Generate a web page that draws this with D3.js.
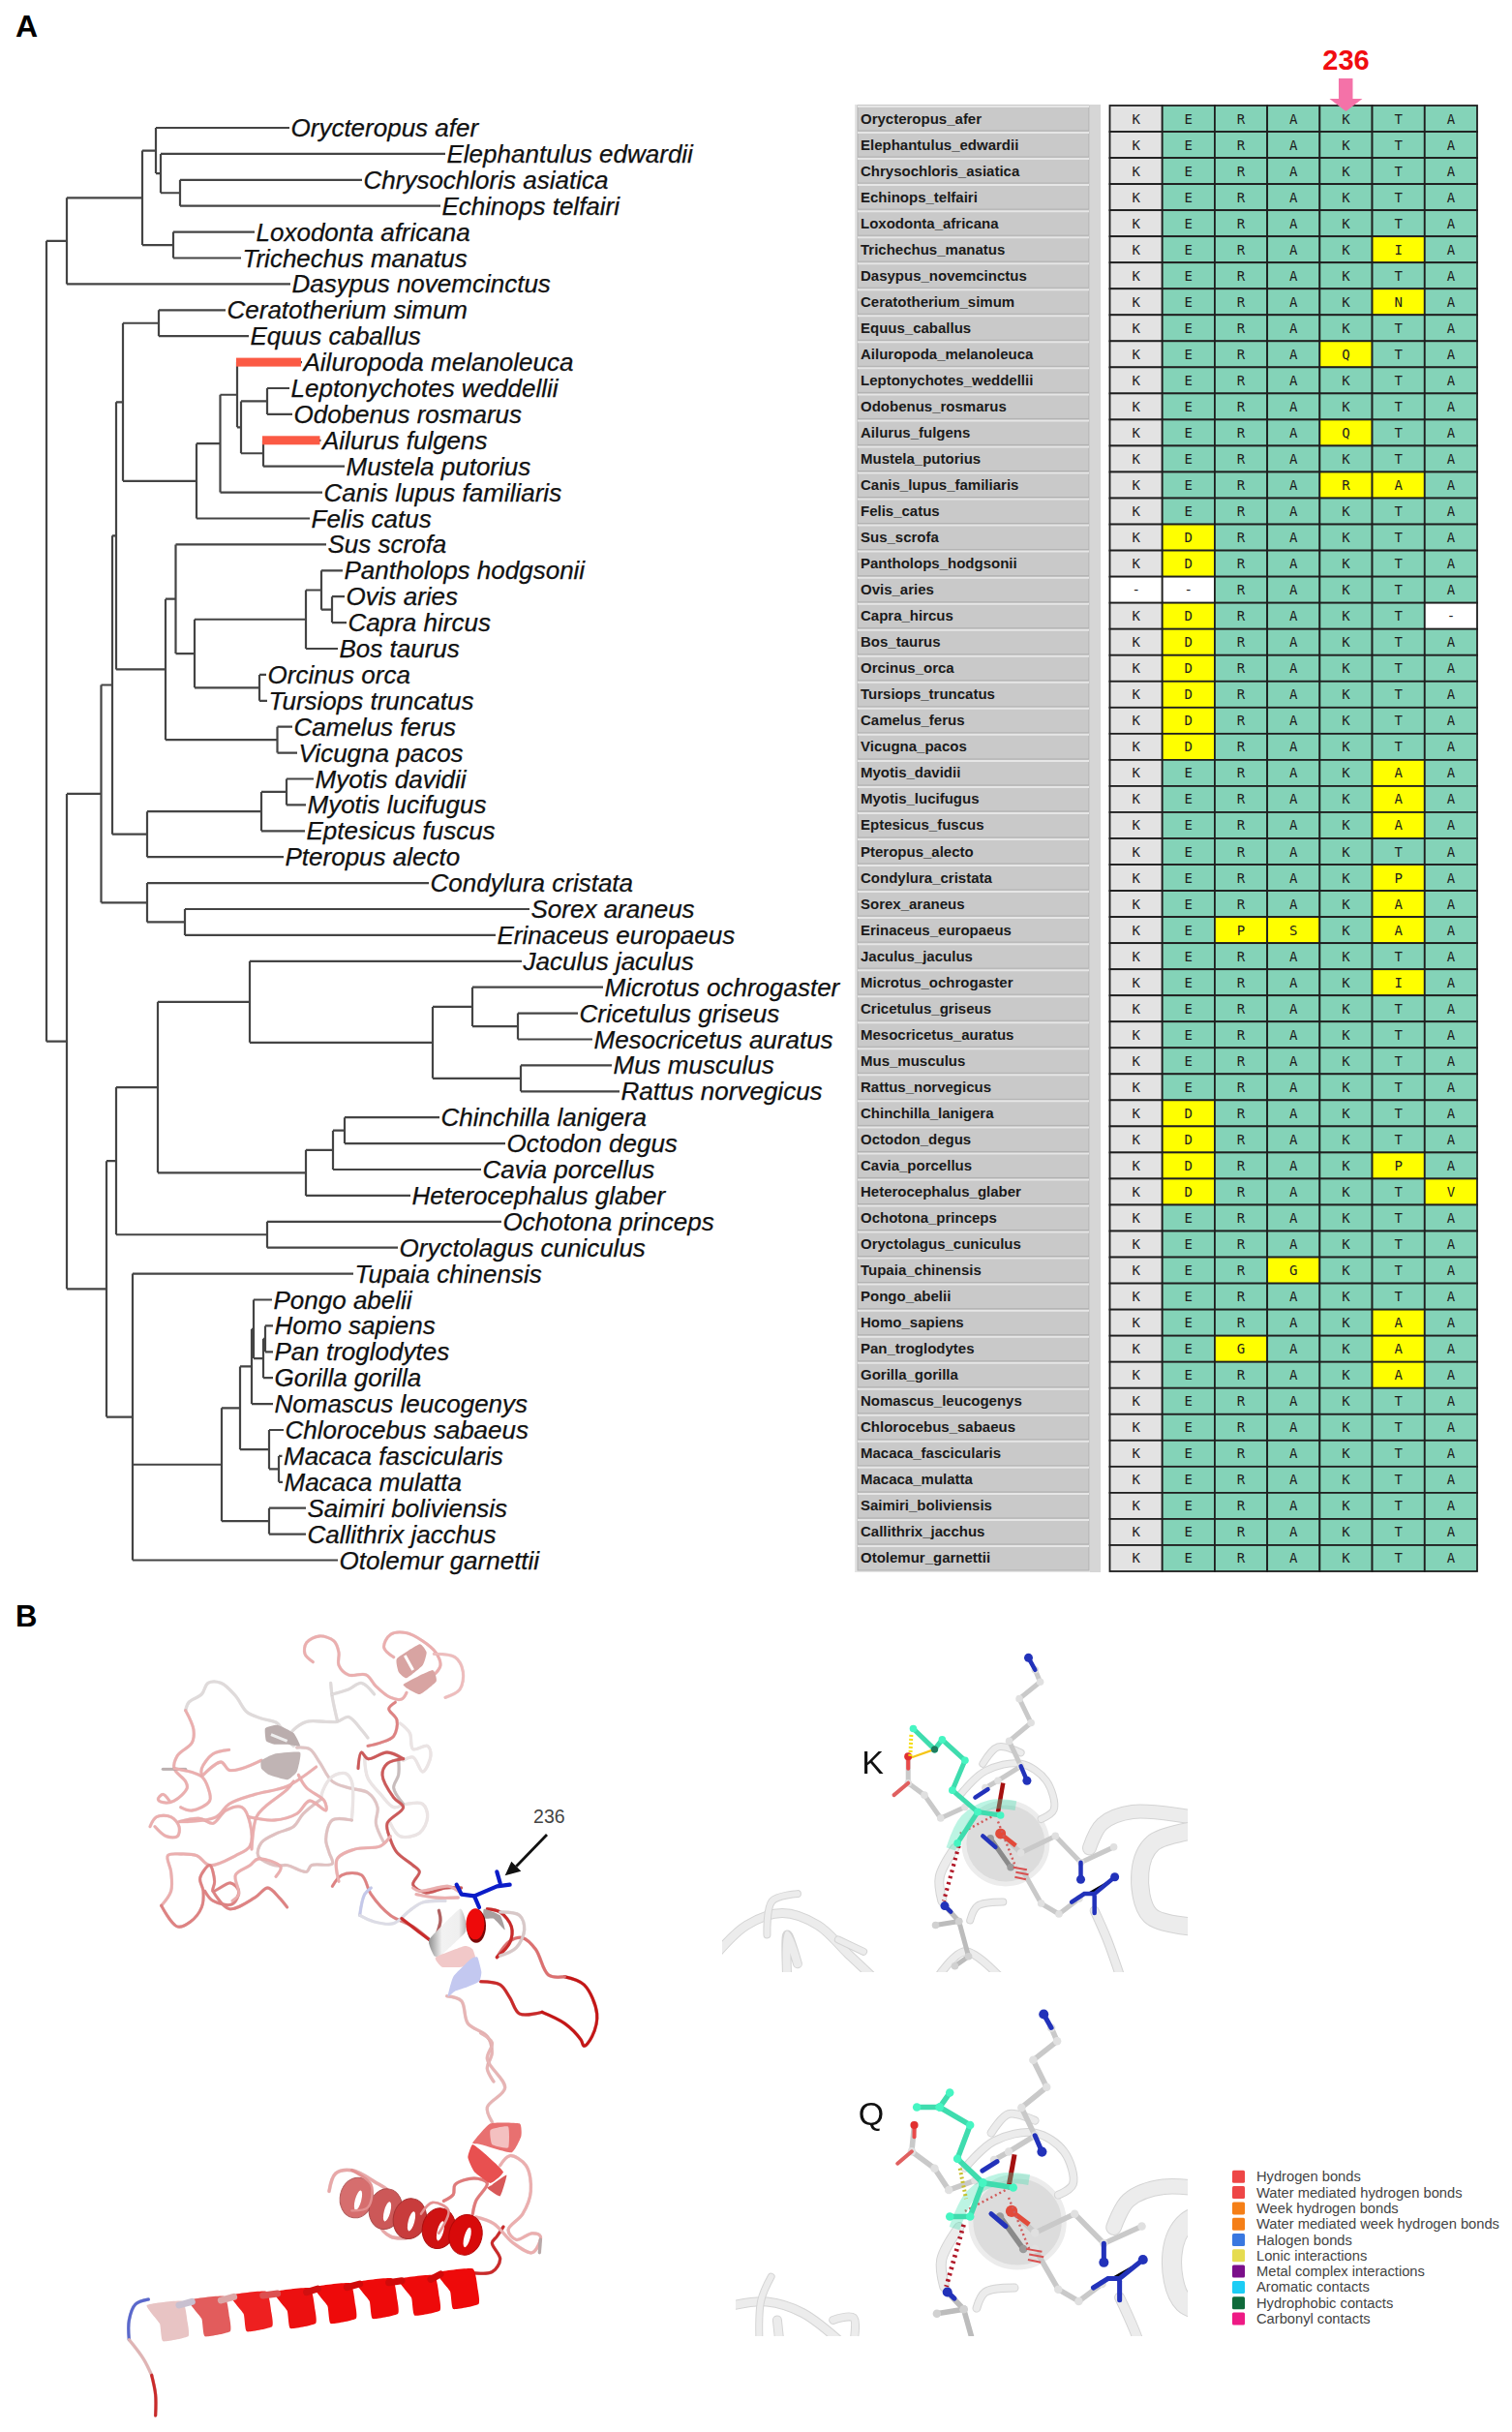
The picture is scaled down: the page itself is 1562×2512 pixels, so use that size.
<!DOCTYPE html>
<html><head><meta charset="utf-8">
<script src="https://cdn.jsdelivr.net/npm/d3@7"></script>
<style>html,body{margin:0;padding:0;background:#fff}svg{display:block}text{font-family:"Liberation Sans",Arial,sans-serif}</style>
</head><body><svg id="c" width="1562" height="2512" viewBox="0 0 1562 2512"></svg>
<script>
// ---------- DATA ----------
const species=["Orycteropus_afer","Elephantulus_edwardii","Chrysochloris_asiatica","Echinops_telfairi","Loxodonta_africana","Trichechus_manatus","Dasypus_novemcinctus","Ceratotherium_simum","Equus_caballus","Ailuropoda_melanoleuca","Leptonychotes_weddellii","Odobenus_rosmarus","Ailurus_fulgens","Mustela_putorius","Canis_lupus_familiaris","Felis_catus","Sus_scrofa","Pantholops_hodgsonii","Ovis_aries","Capra_hircus","Bos_taurus","Orcinus_orca","Tursiops_truncatus","Camelus_ferus","Vicugna_pacos","Myotis_davidii","Myotis_lucifugus","Eptesicus_fuscus","Pteropus_alecto","Condylura_cristata","Sorex_araneus","Erinaceus_europaeus","Jaculus_jaculus","Microtus_ochrogaster","Cricetulus_griseus","Mesocricetus_auratus","Mus_musculus","Rattus_norvegicus","Chinchilla_lanigera","Octodon_degus","Cavia_porcellus","Heterocephalus_glaber","Ochotona_princeps","Oryctolagus_cuniculus","Tupaia_chinensis","Pongo_abelii","Homo_sapiens","Pan_troglodytes","Gorilla_gorilla","Nomascus_leucogenys","Chlorocebus_sabaeus","Macaca_fascicularis","Macaca_mulatta","Saimiri_boliviensis","Callithrix_jacchus","Otolemur_garnettii"];
const consensus="KERAKTA";
const residues=["KERAKTA","KERAKTA","KERAKTA","KERAKTA","KERAKTA","KERAKIA","KERAKTA","KERAKNA","KERAKTA","KERAQTA","KERAKTA","KERAKTA","KERAQTA","KERAKTA","KERARAA","KERAKTA","KDRAKTA","KDRAKTA","--RAKTA","KDRAKT-","KDRAKTA","KDRAKTA","KDRAKTA","KDRAKTA","KDRAKTA","KERAKAA","KERAKAA","KERAKAA","KERAKTA","KERAKPA","KERAKAA","KEPSKAA","KERAKTA","KERAKIA","KERAKTA","KERAKTA","KERAKTA","KERAKTA","KDRAKTA","KDRAKTA","KDRAKPA","KDRAKTV","KERAKTA","KERAKTA","KERGKTA","KERAKTA","KERAKAA","KEGAKAA","KERAKAA","KERAKTA","KERAKTA","KERAKTA","KERAKTA","KERAKTA","KERAKTA","KERAKTA"];
// Tree: every node carries its cumulative depth from the root.
const treeNewick="((((Orycteropus_afer:251,(Elephantulus_edwardii:412,(Chrysochloris_asiatica:326,Echinops_telfairi:407):138):118):113,(Loxodonta_africana:215,Trichechus_manatus:201):131):99,Dasypus_novemcinctus:252):21,((((((Ceratotherium_simum:185,Equus_caballus:209):116,(((Ailuropoda_melanoleuca:264,((Leptonychotes_weddellii:251,Odobenus_rosmarus:254):228,(Ailurus_fulgens:283.5,Mustela_putorius:308):224):201):197,Canis_lupus_familiaris:285):179.5,Felis_catus:272):155):79,((Sus_scrofa:289,(((Pantholops_hodgsonii:306,(Ovis_aries:308,Capra_hircus:310):295):284,Bos_taurus:301):268,(Orcinus_orca:227,Tursiops_truncatus:228):220):153):133.5,(Camelus_ferus:254,Vicugna_pacos:259):238.5):123):72,(((Myotis_davidii:276,Myotis_lucifugus:268):248,Eptesicus_fuscus:267):222,Pteropus_alecto:245):104):68,(Condylura_cristata:395,(Sorex_araneus:499,Erinaceus_europaeus:464):143):104):56.5,(((((Jaculus_jaculus:491,((Microtus_ochrogaster:575,(Cricetulus_griseus:549,Mesocricetus_auratus:564):487):440,(Mus_musculus:584,Rattus_norvegicus:592):490):399):210,(((Chinchilla_lanigera:406,Octodon_degus:474):308,Cavia_porcellus:449):296,Heterocephalus_glaber:376):268):115,(Ochotona_princeps:470,Oryctolagus_cuniculus:363):228):72,(Tupaia_chinensis:317,((((Pongo_abelii:233,((Homo_sapiens:234,Pan_troglodytes:234):226,Gorilla_gorilla:234):224):214,Nomascus_leucogenys:234):212,(Chlorocebus_sabaeus:245,(Macaca_fascicularis:243.5,Macaca_mulatta:244):240):230):200,(Saimiri_boliviensis:268,Callithrix_jacchus:268):230):181,Otolemur_garnettii:301):89):62):57.5):21):0";
const highlighted=["Ailuropoda_melanoleuca","Ailurus_fulgens"];
const legendLabels=["Hydrogen bonds","Water mediated hydrogen bonds","Week hydrogen bonds","Water mediated week hydrogen bonds","Halogen bonds","Lonic interactions","Metal complex interactions","Aromatic contacts","Hydrophobic contacts","Carbonyl contacts"];
const legendColors=["#ee4646","#ee4646","#f57f17","#f57f17","#3a78e0","#e6dc50","#7b0f8a","#1ccdf5","#0f6a3a","#ee1a85"];
const PK="#ebaeae",RS="#de8282",RD="#c92a2a",GY="#dfdada",WG="#ebe4e4",DP="#cc5a5a";
// Structure traces, in picture-read trace units.
const loopsUpper=[
 [PK,[[550,140],[525,115],[530,80],[570,60],[615,75],[630,110],[630,150],[660,180],[715,180],[745,215],[790,250],[825,255],[840,235]]],
 [PK,[[800,125],[770,95],[790,55],[840,50],[890,75],[930,110],[945,150],[930,175]]],
 ["#eebcbc",[[925,115],[990,125],[1015,170],[1005,225],[960,250]]],
 [RS,[[805,265],[785,285],[810,320],[800,370],[760,390],[720,400]]],
 [GY,[[155,290],[165,265],[205,240],[225,205],[265,205],[310,245],[345,295],[390,315],[440,330],[470,380],[490,400]]],
 [PK,[[155,290],[180,350],[175,390],[130,430],[120,470],[155,510],[160,530],[120,570],[85,575],[70,565],[85,550],[105,570]]],
 ["#bbb0b0",[[85,472],[155,472]]],
 [PK,[[120,470],[205,495],[225,530],[230,570],[175,600],[140,590]]],
 [PK,[[290,412],[240,425],[205,470],[205,490]]],
 [PK,[[210,490],[265,450],[290,475],[330,470],[390,445]]],
 [GY,[[470,380],[490,350],[530,325],[590,325],[625,325],[660,310],[700,350],[720,375]]],
 [GY,[[605,205],[610,250],[625,320]]],[GY,[[610,240],[660,225],[700,205],[740,240]]],
 ["#e0c4c4",[[500,405],[540,410],[570,450],[610,510],[660,530],[720,545],[750,590],[745,640],[770,700]]],
 [WG,[[670,630],[670,510],[650,485],[610,495],[580,540],[575,565]]],
 ["#e0c0c0",[[575,565],[520,610],[490,650],[440,670],[390,700],[380,740],[430,770],[470,770],[530,790],[545,770],[610,765],[600,730],[590,690],[610,630],[670,630]]],
 [PK,[[45,650],[65,620],[110,620],[135,650],[130,680],[95,680],[60,650]]],
 [PK,[[135,635],[200,625],[240,640],[280,600],[330,590],[355,640],[355,710],[310,740],[230,770],[190,740],[140,735],[100,740],[110,790],[110,850],[80,895]]],
 [RS,[[80,895],[130,960],[170,945],[205,900],[210,850],[200,810],[230,770],[245,820],[240,850],[295,825],[320,850],[300,890],[240,880],[215,850]]],
 [RS,[[240,850],[290,905],[370,870],[410,840],[445,870],[470,900]]],
 [PK,[[435,805],[450,775],[380,750],[355,770],[310,800],[320,860],[300,880]]],
 [PK,[[360,720],[375,620],[400,590],[470,535],[490,510]]],
 [PK,[[140,635],[250,620],[290,580],[370,550],[470,525],[560,465]]],
 [PK,[[350,620],[430,630],[500,610],[540,570],[590,600],[585,570],[530,530],[505,490]]],
 [WG,[[820,330],[850,360],[860,410],[905,400],[915,430],[890,480],[860,435],[830,445]]],
 [WG,[[710,440],[720,500],[760,550],[800,590],[840,580],[890,580],[905,620],[880,670],[820,680],[790,640]]],
 ["#c8bcbc",[[815,440],[815,490],[800,530],[830,580]]],
 [DP,[[830,440],[780,420],[720,440],[700,420],[690,470]]],
 [DP,[[830,440],[780,455],[765,490],[800,560],[830,590],[780,640],[790,690],[810,730],[860,770],[880,790],[860,830],[900,855],[960,840],[1010,840]]],
 [RS,[[610,835],[640,800],[700,800],[730,860],[790,925],[860,960],[910,1000]]],
 [PK,[[630,820],[625,750],[680,720],[760,710],[790,680]]],
 ["#c4c8ea",[[695,925],[710,860],[730,840]]],
 ["#dcdce6",[[695,925],[740,945],[800,950],[850,910],[890,885],[960,880]]],
 [PK,[[860,840],[880,850],[970,835],[1000,850]]],[PK,[[1000,870],[930,870],[870,860]]]
];
const helixUpperPolys=[
 ["#d8a4a2",[[810,130],[880,85],[902,110],[890,150],[840,190],[815,170]]],
 ["#d8a4a2",[[830,210],[920,165],[932,200],[880,240]]],
 ["#baadad",[[402,345],[440,335],[490,360],[510,400],[470,395],[430,395],[405,385]]],
 ["#c0b4b4",[[390,445],[430,425],[510,420],[500,480],[470,505],[415,490],[390,470]]]
];
const loopsLower=[
 [RD,[[470,590],[530,600],[560,640],[590,690],[660,685]]],
 ["#c41616",[[660,685],[730,720],[780,770],[790,790],[815,760],[830,690],[790,600],[730,575]]],
 ["#dc7070",[[730,575],[680,570],[640,490],[600,455],[560,465],[520,515]]],
 [RD,[[520,515],[560,470],[565,420],[530,375],[490,365]]],
 ["#d8c8c8",[[530,375],[590,385],[605,430],[580,485],[530,510]]],
 ["#e7b4b4",[[365,635],[410,650],[430,720],[490,760],[505,810],[490,860],[510,900]]],
 [RD,[[225,395],[270,430],[310,460]]],
 ["#b06060",[[340,370],[345,400],[335,440]]]
];
const helixLowerPolys=[
 ["url(#gw)",[[310,460],[405,365],[425,410],[420,440],[345,510],[325,510]]],
 ["#f1c8c8",[[330,515],[420,480],[445,490],[455,530],[410,545],[350,545]]],
 ["#a8a0a0",[[480,365],[530,385],[545,430],[510,395],[480,395]]],
 ["#c3c8f0",[[385,575],[440,520],[460,515],[472,560],[465,590],[420,610],[390,620],[368,636]]]
];
const lysine=[[[395,290],[410,320],[450,325],[520,295],[560,290]],[[520,250],[530,285]],[[450,325],[465,360]]];
const coilBottom=[
 ["#e7b4b4",[[1130,0],[1165,30],[1150,80],[1205,170],[1150,230],[1165,275]]],
 [RD,[[1085,740],[1165,740],[1190,700],[1165,650],[1180,630],[1200,600]]],
 [PK,[[1115,570],[1170,590],[1230,650],[1290,680],[1315,630],[1290,620],[1240,640],[1215,610],[1260,560],[1285,490],[1270,410],[1220,380],[1190,410]]],
 ["#b8a8a8",[[1312,680],[1315,640]]],
 ["#e07a7a",[[1015,520],[1045,500],[1050,470],[1110,450],[1150,465],[1115,520],[1105,560]]],
 ["#5a68cc",[[100,825],[60,840],[40,890],[40,950]]],
 ["#e0b4b4",[[40,950],[85,1010],[110,1060]]],
 [RD,[[110,1060],[122,1120],[122,1185]]]
];
const tiltedLoop=[[660,490],[680,435],[730,425],[800,460],[850,500],[815,590],[850,630],[900,635]];
const h2cx=[745,835,910,1000,1083],h2cy=[510,545,575,605,625],h2col=["#d66e6e","#cc5858","#c83c3c","#cf1212","#d80a0a"];
const h1x=[1045,925,795,665,540,405,275,145],h1y=[855,875,885,900,915,925,940,955];
const h1col=["#ee0a0a","#ee0a0a","#ee0a0a","#ee0a0a","#ec1010","#ee2020","#e25c5c","#e8c4c4"];
const h1back=["#d00a0a","#d00a0a","#d00a0a","#d01010","#dc5050","#dca6a6","#c8c0d0"];
const shortHelix=[["#e87070",[[1105,340],[1160,280],[1250,280],[1255,320],[1225,370],[1130,345]]],["#f4c0c0",[[1160,300],[1215,290],[1215,355],[1165,345]]],["#e85050",[[1090,385],[1105,345],[1150,380],[1200,430],[1160,465],[1110,430]]],["#d85858",[[1165,470],[1210,440],[1190,505],[1150,480]]]];
// Residue scenes, trace units of the K panel; Q reuses them through its own scale.
const ribbonsShared=[
 [[[480,350],[530,300],[600,285],[650,320],[665,380],[640,400]],7],
 [[[525,285],[555,250],[600,262]],7],
 [[[470,460],[440,520],[445,570]],9],
 [[[435,730],[490,675],[570,740]],8],
 [[[500,610],[515,580],[565,572]],7],
 [[[745,590],[770,650],[800,740]],9],
 [[[735,460],[760,410],[820,385],[960,400]],14],
 [[[960,420],[860,450],[835,510],[855,600],[960,625]],18]
];
const ribbonsK=[
 [[[0,680],[60,620],[130,595],[200,620],[260,680],[320,740]],9],
 [[[100,640],[110,570],[160,555]],7],[[[140,740],[140,640],[160,700]],9],[[[240,650],[290,675]],7]
];
const ribbonsQ=[
 [[[30,1410],[100,1402],[170,1425],[250,1490]],9],[[[108,1350],[88,1400],[85,1490]],7],[[[120,1440],[125,1490]],9],[[[230,1440],[270,1435],[270,1490]],8]
];
const sticks=[
 ["#c9c9c9",[[628,90],[638,115],[597,150],[620,200],[577,238],[600,290],[555,320],[530,335]]],
 ["#c9c9c9",[[560,430],[600,470],[668,435],[718,490],[783,458]]],
 ["#c9c9c9",[[600,500],[640,575],[675,597],[715,565]]],
 ["#bcbcbc",[[478,612],[432,620]]],["#bcbcbc",[[450,580],[478,612],[497,685],[470,705]]],
 ["#8a8a8a",[[540,440],[580,500]]]
];
const bluePieces=[
 [[[615,65],[628,90]],[615,65]],[[[600,290],[612,320]],[612,320]],[[[510,355],[535,338]],null],[[[718,490],[718,525]],[718,525]],
 [[[700,572],[725,555],[745,555],[785,520]],[785,520]],[[[745,560],[745,595]],null],[[[525,435],[550,458]],null],[[[450,580],[462,592]],[450,580]]
];
const stickLeftK=[[378,270],[378,325],[410,350],[442,398],[490,375]];
const stickLeftQ=[[390,1035],[385,1090],[430,1125],[458,1170],[510,1150]];
const tealK=[[[388,212],[430,255],[445,235],[490,278],[465,340],[515,385],[475,450]],[[515,385],[560,392]]];
const tealQ=[[[395,998],[440,998],[460,968]],[[440,998],[500,1035],[475,1105],[525,1155],[500,1225],[460,1225]],[[525,1155],[585,1165]]];

// ---------- HELPERS ----------
const svg=d3.select("#c");
const defs=svg.append("defs");
const gw=defs.append("linearGradient").attr("id","gw");
[[0,"#8f8f8f"],[.35,"#f2f2f2"],[.8,"#efefef"],[1,"#b5b5b5"]].forEach(s=>gw.append("stop").attr("offset",s[0]).attr("stop-color",s[1]));
const crop=(ox,oy,kx,ky)=>({x:d3.scaleLinear([0,1],[ox,ox+1/kx]),y:d3.scaleLinear([0,1],[oy,oy+1/ky])});
const lineOf=(c,curve)=>d3.line().x(d=>c.x(d[0])).y(d=>c.y(d[1])).curve(curve||d3.curveCatmullRom.alpha(.5));
const smoothClosed=d3.curveCardinalClosed.tension(.55);
function parseNewick(s){let i=0;function node(){const n={children:[]};if(s[i]==="("){i++;do{n.children.push(node())}while(s[i++]===",")}
 let j=i;while(j<s.length&&!",():".includes(s[j]))j++;n.name=s.slice(i,j);i=j;if(s[i]===":"){i++;j=i;while(j<s.length&&!",()".includes(s[j]))j++;n.depth0=+s.slice(i,j);i=j}
 if(!n.children.length)delete n.children;return n}return node()}

// ---------- PANEL LETTERS ----------
svg.append("text").attr("x",16).attr("y",37.5).attr("font-size",32).attr("font-weight",700).text("A");
svg.append("text").attr("x",16).attr("y",1680).attr("font-size",31).attr("font-weight",700).text("B");

// ---------- TREE ----------
const xTree=d3.scaleLinear([0,593],[48,641]);
const yTip=d3.scalePoint(species,[132,1611.5]);
const root=d3.hierarchy(parseNewick(treeNewick));
root.eachAfter(n=>{n.px=xTree(n.data.depth0||0);n.py=n.children?(n.children[0].py+n.children[n.children.length-1].py)/2:yTip(n.data.name)});
const gTree=svg.append("g").style("filter","blur(.35px)");
gTree.append("path").attr("fill","none").attr("stroke","#444").attr("stroke-width",2.2).attr("d",()=>{const p=d3.path();root.each(n=>{
 if(n.children){p.moveTo(n.px,n.children[0].py);p.lineTo(n.px,n.children[n.children.length-1].py);n.children.forEach(c=>{p.moveTo(n.px,c.py);p.lineTo(c.px,c.py)})}});return p});
gTree.selectAll("rect.hl").data(root.leaves().filter(n=>highlighted.includes(n.data.name))).join("rect").attr("x",n=>n.parent.px-1).attr("y",n=>n.py-4.5).attr("width",n=>n.px-n.parent.px).attr("height",9).attr("fill","#fb5a44");
svg.append("g").selectAll("text").data(root.leaves()).join("text").attr("x",n=>n.px+1.5).attr("y",n=>n.py+9).attr("font-size",26).attr("font-style","italic").attr("fill","#111").attr("stroke","#111").attr("stroke-width",.25).text(n=>n.data.name.replace(/_/g," "));

// ---------- ALIGNMENT ----------
const yRow=d3.scaleBand(species,[109,1623]);
const xCol=d3.scaleBand(d3.range(7),[1146.5,1526]);
svg.append("rect").attr("x",883).attr("y",yRow.range()[0]-1).attr("width",254).attr("height",1516).attr("fill","#e4e4e4");
svg.append("rect").attr("x",1126).attr("y",yRow.range()[0]-1).attr("width",11).attr("height",1516).attr("fill","#d6d6d6");
const lab=svg.append("g").selectAll("g").data(species).join("g").attr("transform",d=>`translate(886,${yRow(d)})`);
lab.append("rect").attr("width",239).attr("height",yRow.bandwidth()-1).attr("fill","#c9c9c9").attr("stroke","#b0b0b0").attr("stroke-width",1);
lab.append("line").attr("x1",0).attr("x2",239).attr("y1",1).attr("y2",1).attr("stroke","#e6e6e6").attr("stroke-width",2);
lab.append("text").attr("x",3).attr("y",yRow.bandwidth()/2+5).attr("font-size",15).attr("font-weight",700).attr("fill","#1a1a1a").text(d=>d);
const cells=[];species.forEach((s,r)=>residues[r].split("").forEach((a,c)=>cells.push({s,c,a})));
const fillOf=d=>d.a==="-"?"#ffffff":d.a!==consensus[d.c]?"#ffff00":d.c===0?"#e3e3e3":"#84d3b8";
const gc=svg.append("g");
gc.selectAll("rect").data(cells).join("rect").attr("x",d=>xCol(d.c)).attr("y",d=>yRow(d.s)).attr("width",xCol.bandwidth()).attr("height",yRow.bandwidth()).attr("fill",fillOf).attr("stroke","#1f1f1f").attr("stroke-width",1.8);
gc.selectAll("text").data(cells).join("text").attr("x",d=>xCol(d.c)+xCol.bandwidth()/2).attr("y",d=>yRow(d.s)+yRow.bandwidth()/2+5).attr("text-anchor","middle").attr("font-size",14).style("font-family","'DejaVu Sans Mono',monospace").attr("fill","#1e1e1e").text(d=>d.a);
const xMark=xCol(4)+xCol.bandwidth()/2;
svg.append("text").attr("x",xMark).attr("y",71.5).attr("text-anchor","middle").attr("font-size",29).attr("font-weight",700).attr("fill","#f00c10").text("236");
svg.append("path").attr("fill","#f472a8").attr("d",d3.line()([[xMark-7.5,81],[xMark+7,81],[xMark+7,102],[xMark+17,102],[xMark,115],[xMark-17,102],[xMark-7.5,102]])+"Z");

// ---------- PROTEIN ----------
const gP=svg.append("g").style("filter","blur(.6px)");
const c7=crop(140,1670,3,3),c8=crop(340,1850,3,3),c9=crop(120,2100,3,3);
function strands(list,c,w){const g=gP.append("g").attr("fill","none").attr("stroke-linecap","round").attr("stroke-linejoin","round");
 list.forEach(([col,pts])=>{g.append("path").attr("d",lineOf(c)(pts)).attr("stroke",d3.color(col).darker(.5)).attr("stroke-width",w+.5).attr("opacity",.4);
  g.append("path").attr("d",lineOf(c)(pts)).attr("stroke",col).attr("stroke-width",w)})}
const polys=(list,c)=>list.forEach(([col,pts])=>gP.append("path").attr("d",lineOf(c,smoothClosed)(pts)).attr("fill",col));
strands(loopsUpper,c7,2.8);polys(helixUpperPolys,c7);
gP.append("path").attr("d",lineOf(c7)([[835,120],[860,165]])).attr("stroke","#fff").attr("stroke-width",3);
gP.append("path").attr("d",lineOf(c7)([[420,365],[470,385]])).attr("stroke","#eee").attr("stroke-width",3);
strands(loopsLower,c8,3);polys(helixLowerPolys,c8);
gP.append("ellipse").attr("cx",c8.x(456)).attr("cy",c8.y(418)).attr("rx",10).attr("ry",17.5).attr("fill","#7a0808");
gP.append("ellipse").attr("cx",c8.x(453)).attr("cy",c8.y(412)).attr("rx",9.5).attr("ry",16).attr("fill","#ee0a0a");
lysine.forEach(p=>gP.append("path").attr("d",lineOf(c8,d3.curveLinear)(p)).attr("fill","none").attr("stroke","#0b1cc8").attr("stroke-width",4.2).attr("stroke-linecap","round").attr("stroke-linejoin","round"));
gP.append("path").attr("d",lineOf(c8,d3.curveLinear)([[675,135],[580,233]])).attr("stroke","#111").attr("stroke-width",2.8);
gP.append("path").attr("d",lineOf(c8,d3.curveLinearClosed)([[545,262],[565,218],[595,248]])).attr("fill","#111");
svg.append("text").attr("x",c8.x(682)).attr("y",c8.y(95)+1).attr("text-anchor","middle").attr("font-size",19.5).attr("fill","#444").text("236");
strands(coilBottom,c9,3);
strands([["#e8a8a8",tiltedLoop]],c9,3.2);
h2cx.forEach((x,i)=>gP.append("ellipse").attr("transform",`translate(${c9.x(x)},${c9.y(h2cy[i])}) rotate(12)`).attr("rx",17).attr("ry",21).attr("fill",h2col[i]).attr("stroke",d3.color(h2col[i]).darker(.5)).attr("stroke-width",1));
h2cx.forEach((x,i)=>gP.append("ellipse").attr("transform",`translate(${c9.x(x+5)},${c9.y(h2cy[i]+8)}) rotate(15)`).attr("rx",3.2).attr("ry",10.5).attr("fill","#fff"));
strands([["#e59090",[[730,425],[790,470],[780,540],[730,550]]],["#e59090",[[945,560],[980,525],[1030,550],[1000,620]]]],c9,2.4);
const band=[[-50,-112],[60,-125],[76,-60],[78,-15],[0,0],[-10,-55]];
h1x.forEach((x,i)=>gP.append("path").attr("d",lineOf(c9,smoothClosed)(band.map(b=>[x+b[0],h1y[i]+b[1]]))).attr("fill",h1col[i]));
h1back.forEach((col,i)=>gP.append("path").attr("d",lineOf(c9,d3.curveLinear)([[h1x[i+1]+50,h1y[i+1]-112],[h1x[i]-40,h1y[i]-108]])).attr("stroke",col).attr("stroke-width",7).attr("stroke-linecap","round"));
polys(shortHelix,c9);

// ---------- RESIDUE SCENES ----------
const cK=crop(740,1680,1.907,2.01);
const cQd=crop(740,1680,1.907,2.01);
const cQ={x:d=>cQd.x(645+(d-615)*1.15),y:d=>cQd.y(805+(d-65)*1.12)};
const gS=svg.append("g").style("filter","blur(.5px)");
function clip(id,c,x0,y0,x1,y1){defs.append("clipPath").attr("id",id).append("rect").attr("x",c.x(x0)).attr("y",c.y(y0)).attr("width",c.x(x1)-c.x(x0)).attr("height",c.y(y1)-c.y(y0))}
clip("kc",cK,12,0,927,717);clip("qc",cQd,40,780,927,1472);
function scene(id,c,cD,ribOwn,leftStick,teal,k){
 const g=gS.append("g").attr("clip-path",`url(#${id})`);
 const rib=(pts,w,cc)=>{g.append("path").attr("d",lineOf(cc)(pts)).attr("fill","none").attr("stroke","#d4d4d4").attr("stroke-width",w+1).attr("stroke-linecap","round");
  g.append("path").attr("d",lineOf(cc)(pts)).attr("fill","none").attr("stroke","#ececec").attr("stroke-width",w-1).attr("stroke-linecap","round")};
 g.append("ellipse").attr("cx",c.x(570)).attr("cy",c.y(450)).attr("rx",43*k).attr("ry",42*k).attr("fill","#dcdcdc").attr("stroke","#ececec").attr("stroke-width",5);
 ribbonsShared.forEach(([p,w])=>rib(p,w*k,c));ribOwn.forEach(([p,w])=>rib(p,w,cD));
 const st=(pts,col,cc)=>{g.append("path").attr("d",lineOf(cc,d3.curveLinear)(pts)).attr("fill","none").attr("stroke",col).attr("stroke-width",5*k).attr("stroke-linecap","round").attr("stroke-linejoin","round");
  g.selectAll(null).data(pts).join("circle").attr("cx",d=>cc.x(d[0])).attr("cy",d=>cc.y(d[1])).attr("r",3.8*k).attr("fill",d3.color(col).brighter(.3))};
 sticks.forEach(([col,p])=>st(p,col,c));st(leftStick,"#c9c9c9",cD);
 const ls=leftStick;
 g.append("path").attr("d",lineOf(cD,d3.curveLinear)([ls[0],[ls[0][0],ls[0][1]+25]])).attr("stroke","#e94a4a").attr("stroke-width",4).attr("stroke-linecap","round");
 g.append("path").attr("d",lineOf(cD,d3.curveLinear)([[ls[1][0]-28,ls[1][1]+25],ls[1]])).attr("stroke","#e06060").attr("stroke-width",4).attr("stroke-linecap","round");
 g.append("circle").attr("cx",cD.x(ls[0][0])).attr("cy",cD.y(ls[0][1])).attr("r",4).attr("fill","#e23030");
 bluePieces.forEach(([p,b])=>{g.append("path").attr("d",lineOf(c,d3.curveLinear)(p)).attr("stroke","#2232ba").attr("stroke-width",4.5*k).attr("stroke-linecap","round");
  if(b)g.append("circle").attr("cx",c.x(b[0])).attr("cy",c.y(b[1])).attr("r",4.5*k).attr("fill","#2232ba")});
 g.append("circle").attr("cx",c.x(560)).attr("cy",c.y(430)).attr("r",5.5*k).attr("fill","#e24a3a");
 g.append("path").attr("d",lineOf(c,d3.curveLinear)([[560,430],[590,455]])).attr("stroke","#e24a3a").attr("stroke-width",4.5*k);
 g.append("path").attr("d",lineOf(c,d3.curveLinear)([[565,325],[555,385]])).attr("stroke","#a51010").attr("stroke-width",4.5*k);
 g.append("path").attr("d",lineOf(c,d3.curveLinear)([[478,455],[448,570]])).attr("stroke","#b01828").attr("stroke-width",4.2*k).attr("stroke-dasharray","2.5 4");
 g.append("path").attr("d",lineOf(c,d3.curveLinear)([[480,430],[560,385]])).attr("stroke","#d05a5a").attr("stroke-width",2.4).attr("stroke-dasharray","2 3");
 g.append("path").attr("d",lineOf(c,d3.curveLinear)([[555,405],[590,500]])).attr("stroke","#d05a5a").attr("stroke-width",2.4).attr("stroke-dasharray","2 3");
 [[585,500,612,505],[590,510,615,515],[588,520,610,525]].forEach(b=>g.append("path").attr("d",lineOf(c,d3.curveLinear)([[b[0],b[1]],[b[2],b[3]]])).attr("stroke","#d85050").attr("stroke-width",2));
 g.append("path").attr("d",lineOf(c)([[462,462],[490,400],[540,370],[590,372]])).attr("fill","none").attr("stroke","#3ee0b0").attr("stroke-opacity",.35).attr("stroke-width",10*k);
 teal.forEach(p=>st(p,"#3fdcae",cD));
}
scene("kc",cK,cK,ribbonsK,stickLeftK,tealK,1);
scene("qc",cQ,cQd,ribbonsQ,stickLeftQ,tealQ,1.12);
const gk=gS.append("g");
gk.append("path").attr("d",lineOf(cK,d3.curveLinear)([[384,225],[382,270]])).attr("stroke","#f5dd10").attr("stroke-width",4).attr("stroke-dasharray","2 2");
gk.append("path").attr("d",lineOf(cK,d3.curveLinear)([[385,272],[430,255]])).attr("stroke","#f5c518").attr("stroke-width",2.2);
gk.append("circle").attr("cx",cK.x(430)).attr("cy",cK.y(255)).attr("r",3.6).attr("fill","#1f7a5e");
gk.append("path").attr("d",lineOf(cQd,d3.curveLinear)([[480,1125],[492,1188]])).attr("stroke","#c8c030").attr("stroke-width",4).attr("stroke-dasharray","2 2.5");
svg.append("text").attr("x",cK.x(308)).attr("y",cK.y(305)).attr("text-anchor","middle").attr("font-size",34).attr("fill","#111").text("K");
svg.append("text").attr("x",cK.x(305)).attr("y",cK.y(1035)).attr("text-anchor","middle").attr("font-size",34).attr("fill","#111").text("Q");

// ---------- LEGEND ----------
const yLeg=d3.scalePoint(legendLabels,[2248.3,2395]);
const leg=svg.append("g").selectAll("g").data(legendLabels).join("g").attr("transform",d=>`translate(1273,${yLeg(d)})`);
leg.append("rect").attr("y",-6.5).attr("width",13).attr("height",13).attr("rx",1.5).attr("fill",(d,i)=>legendColors[i]);
leg.append("text").attr("x",25).attr("y",5).attr("font-size",14.7).attr("fill","#444").text(d=>d);
</script></body></html>
